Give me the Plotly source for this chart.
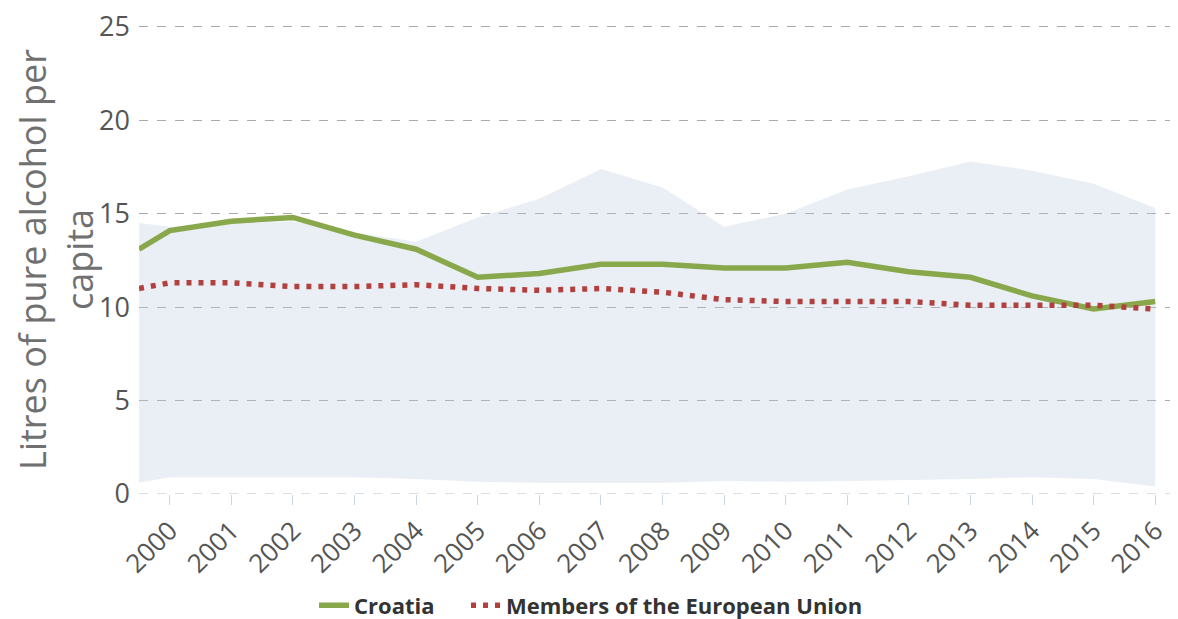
import plotly.graph_objects as go

years = [1999.5, 2000, 2001, 2002, 2003, 2004, 2005, 2006, 2007, 2008,
         2009, 2010, 2011, 2012, 2013, 2014, 2015, 2016]
tick_years = list(range(2000, 2017))

croatia = [13.1, 14.1, 14.6, 14.8, 13.85, 13.1, 11.6, 11.8, 12.3, 12.3,
           12.1, 12.1, 12.4, 11.9, 11.6, 10.6, 9.9, 10.3]
eu = [11.0, 11.3, 11.3, 11.1, 11.1, 11.2, 11.0, 10.9, 11.0, 10.8,
      10.4, 10.3, 10.3, 10.3, 10.1, 10.1, 10.1, 9.9]
band_max = [14.5, 14.3, 14.5, 14.6, 14.0, 13.5, 14.8, 15.8, 17.4, 16.4,
            14.3, 15.0, 16.3, 17.0, 17.8, 17.3, 16.6, 15.3]
band_min = [0.6, 0.9, 0.9, 0.9, 0.9, 0.8, 0.65, 0.6, 0.6, 0.6,
            0.7, 0.65, 0.7, 0.75, 0.8, 0.9, 0.8, 0.4]

GREEN = "#89a84c"
RED = "#b0413e"
BAND = "rgba(182,202,218,0.3)"

W, H = 1170, 611  # page body has an 8px margin

fig = go.Figure()
fig.add_trace(go.Scatter(x=years, y=band_min, mode="lines", line=dict(width=0),
                         showlegend=False, hoverinfo="skip"))
fig.add_trace(go.Scatter(x=years, y=band_max, mode="lines", line=dict(width=0),
                         fill="tonexty", fillcolor=BAND, showlegend=False,
                         hoverinfo="skip"))
fig.add_trace(go.Scatter(x=years, y=croatia, mode="lines", name="Croatia",
                         line=dict(color=GREEN, width=5.5), legend="legend"))
fig.add_trace(go.Scatter(x=years, y=eu, mode="lines",
                         name="Members of the European Union",
                         line=dict(color=RED, width=5.5, dash="5px,7px"),
                         legend="legend2"))

legend_font = dict(family="Open Sans, sans-serif", size=22, color="#333333",
                   weight="bold")

fig.update_layout(
    width=W, height=H,
    margin=dict(l=131, r=0, t=17, b=125),
    paper_bgcolor="white", plot_bgcolor="white",
    font=dict(family="Open Sans, sans-serif", color="#555555"),
    showlegend=True,
    legend=dict(orientation="h", xref="container", x=306 / W, xanchor="left",
                yref="container", y=0.022, yanchor="middle",
                font=legend_font, bgcolor="rgba(0,0,0,0)"),
    legend2=dict(orientation="h", xref="container", x=458 / W, xanchor="left",
                 yref="container", y=0.022, yanchor="middle",
                 font=legend_font, bgcolor="rgba(0,0,0,0)"),
    xaxis=dict(range=[1999.5, 2016.37], tickmode="array", tickvals=tick_years,
               ticktext=[str(y) for y in tick_years], tickangle=-45,
               tickfont=dict(size=26, color="#555555"), automargin=False,
               ticklabeloverflow="allow",
               showgrid=False, zeroline=False, showline=False,
               ticks="outside", ticklen=10, tickcolor="#c8d6e2", tickwidth=1),
    yaxis=dict(range=[0, 25.1], tickvals=[0, 5, 10, 15, 20, 25],
               tickfont=dict(size=27, color="#555555"), automargin=False,
               ticklabeloverflow="allow",
               showgrid=True, gridcolor="#aaaaaa", griddash="dash", gridwidth=1,
               zeroline=False, showline=False, ticks="", ticklabelstandoff=8,
               title=dict(text="Litres of pure alcohol per<br>capita",
                          font=dict(size=36, color="#707070"), standoff=10)),
)
# zero line in light blue-grey dashes
fig.add_shape(type="line", xref="paper", yref="y", x0=0, x1=1, y0=0, y1=0,
              line=dict(color="#c8d6e2", width=1.5, dash="dash"), layer="above")

fig.write_html("out.html")
